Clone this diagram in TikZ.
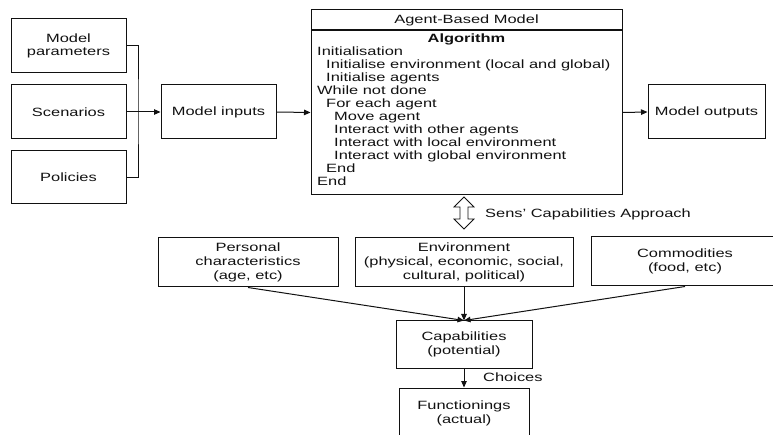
\documentclass[tikz,border=0pt]{standalone}
\usepackage{fontspec}
\setmainfont[FakeStretch=1.37]{Liberation Sans}
\usepackage{tikz}
\usetikzlibrary{arrows.meta}
\definecolor{abmInk}{HTML}{111111}

\begin{document}
\begin{tikzpicture}[x=1pt,y=1pt,
  box/.style={draw=abmInk,line width=1pt,align=center,inner sep=0pt,text=abmInk,font=\fontsize{12}{13.8}\selectfont},
  flow/.style={draw=abmInk,line width=1pt,-{Triangle[length=6.5pt,width=5.5pt]}},
  txt/.style={inner sep=0pt,text=abmInk,font=\fontsize{12}{13}\selectfont}]
\useasboundingbox (0,0) rectangle (773,-435);
\node[box,minimum width=115,minimum height=54] (par) at (68.5,-46) {Model\\parameters};
\node[box,minimum width=115,minimum height=54] (scen) at (68.5,-112) {Scenarios};
\node[box,minimum width=115,minimum height=53] (pol) at (68.5,-177.5) {Policies};
\node[box,minimum width=115,minimum height=54] (inputs) at (218.5,-112) {Model inputs};
\node[box,minimum width=311,minimum height=20] (title) at (466.5,-20) {Agent-Based Model};
\node[box,minimum width=311,minimum height=164,anchor=north] (abm) at (466.5,-30) {};
\node[box,minimum width=117,minimum height=54] (outputs) at (706.5,-112) {Model outputs};
\node[txt,font=\fontsize{12}{13}\selectfont\bfseries] (algo) at (466.5,-39) {Algorithm};
\foreach \algline/\ind [count=\i] in {Initialisation/0,Initialise environment (local and global)/9,
  Initialise agents/9,While not done/0,For each agent/9,Move agent/17,Interact with other agents/17,
  Interact with local environment/17,Interact with global environment/17,End/9,End/0}
  \node[txt,anchor=base west] (step\i) at (317+\ind,-43-13*\i) {\algline};
\coordinate (brk) at (138,-112);
\draw[abmInk,line width=1pt] (par.east) -| (brk) |- (pol.east);
\draw[flow] (scen.east) -- (inputs.west);
\draw[flow] (inputs.east) -- (abm.west);
\draw[flow] (abm.east) -- (outputs.west);
\draw[abmInk,line width=0.8pt,fill=white] (464,-197) -- (474,-207) -- (468,-207) -- (468,-219)
  -- (474,-219) -- (464,-229) -- (454,-219) -- (460,-219) -- (460,-207) -- (454,-207) -- cycle;
\node[txt,anchor=west] (sens) at (485,-214) {Sens' Capabilities Approach};
\node[box,minimum width=180,minimum height=49] (pers) at (248,-262.5) {Personal\\characteristics\\(age, etc)};
\node[box,minimum width=218,minimum height=49] (env) at (464,-262.5) {Environment\\(physical, economic, social,\\cultural, political)};
\node[box,minimum width=188,minimum height=49] (comm) at (685,-261.5) {Commodities\\(food, etc)};
\node[box,minimum width=136,minimum height=47] (cap) at (464,-344.5) {Capabilities\\(potential)};
\node[box,minimum width=130,minimum height=50] (func) at (464,-413) {Functionings\\(actual)};
\draw[flow] (pers.south) -- (cap.north);
\draw[flow] (env.south) -- (cap.north);
\draw[flow] (comm.south) -- (cap.north);
\draw[flow] (cap.south) -- (func.north);
\node[txt,anchor=west] (choice) at (483,-377) {Choices};
\end{tikzpicture}
\end{document}
